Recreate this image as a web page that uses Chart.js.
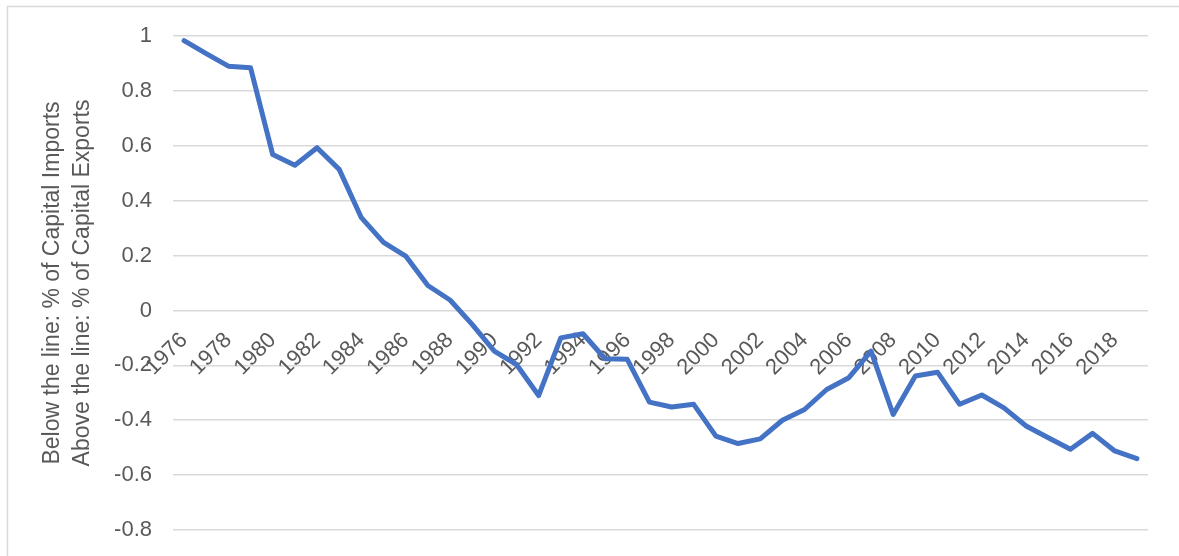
<!DOCTYPE html>
<html>
<head>
<meta charset="utf-8">
<script src="https://cdn.jsdelivr.net/npm/chart.js@4.4.1/dist/chart.umd.min.js"></script>
<style>
  html, body { margin: 0; padding: 0; background: #fff; }
  #wrap { position: relative; width: 1179px; height: 556px; }
</style>
</head>
<body>
<div id="wrap"><canvas id="flowChart" width="1179" height="556"></canvas></div>
<script>
const years = [];
for (let y = 1976; y <= 2019; y++) years.push(String(y));

const shareValues = [
    0.983, 0.936, 0.890, 0.884, 0.568, 0.529, 0.593, 0.514, 0.338, 0.248,
    0.198, 0.091, 0.038, -0.051, -0.148, -0.197, -0.310, -0.100, -0.085, -0.176,
    -0.178, -0.334, -0.352, -0.342, -0.458, -0.485, -0.468, -0.400, -0.361, -0.288,
    -0.245, -0.148, -0.379, -0.239, -0.225, -0.342, -0.308, -0.355, -0.421, -0.464,
    -0.506, -0.448, -0.512, -0.540
];

const yTitleLines = [
    'Below the line: % of Capital Imports',
    'Above the line: % of Capital Exports'
];

const textColor = '#595959';
const gridColor = '#d9d9d9';
const lineColor = '#4472C4';
const fontFamily = "'Liberation Sans', Arial, sans-serif";

// light frame like the spreadsheet chart area
const framePlugin = {
    id: 'frame',
    beforeDraw(chart) {
        const ctx = chart.ctx;
        ctx.save();
        ctx.strokeStyle = gridColor;
        ctx.lineWidth = 1.5;
        ctx.strokeRect(7.5, 6.5, chart.width + 20, chart.height + 20);
        ctx.restore();
    }
};

const ctx = document.getElementById('flowChart').getContext('2d');
new Chart(ctx, {
    type: 'line',
    data: {
        labels: years,
        datasets: [{
            data: shareValues,
            borderColor: lineColor,
            borderWidth: 5,
            pointRadius: 0,
            tension: 0,
            fill: false,
            borderJoinStyle: 'round',
            borderCapStyle: 'round'
        }]
    },
    options: {
        responsive: false,
        animation: false,
        layout: { padding: { left: 20, top: 36, bottom: 26, right: 31 } },
        plugins: {
            legend: { display: false },
            tooltip: { enabled: false }
        },
        scales: {
            x: {
                position: { y: 0 },
                offset: true,
                grid: { display: false, drawTicks: false },
                border: { display: false },
                ticks: {
                    autoSkip: false,
                    maxRotation: 45,
                    minRotation: 45,
                    padding: 17,
                    color: textColor,
                    font: { family: fontFamily, size: 22 },
                    callback: function (value, index) {
                        return index % 2 === 0 ? this.getLabelForValue(value) : '';
                    }
                }
            },
            y: {
                min: -0.8,
                max: 1,
                afterFit: function (scale) { scale.width = 153; },
                grid: {
                    color: gridColor,
                    lineWidth: 1.5,
                    drawTicks: true,
                    tickLength: 21,
                    tickColor: 'rgba(0,0,0,0)'
                },
                border: { display: false },
                ticks: {
                    stepSize: 0.2,
                    padding: 0,
                    color: textColor,
                    font: { family: fontFamily, size: 22 },
                    callback: function (value) {
                        return String(Math.round(value * 10) / 10);
                    }
                },
                title: {
                    display: true,
                    text: yTitleLines,
                    color: textColor,
                    font: { family: fontFamily, size: 23, lineHeight: 1.3 },
                    padding: { top: 18, bottom: 0 }
                }
            }
        }
    },
    plugins: [framePlugin]
});
</script>
</body>
</html>
